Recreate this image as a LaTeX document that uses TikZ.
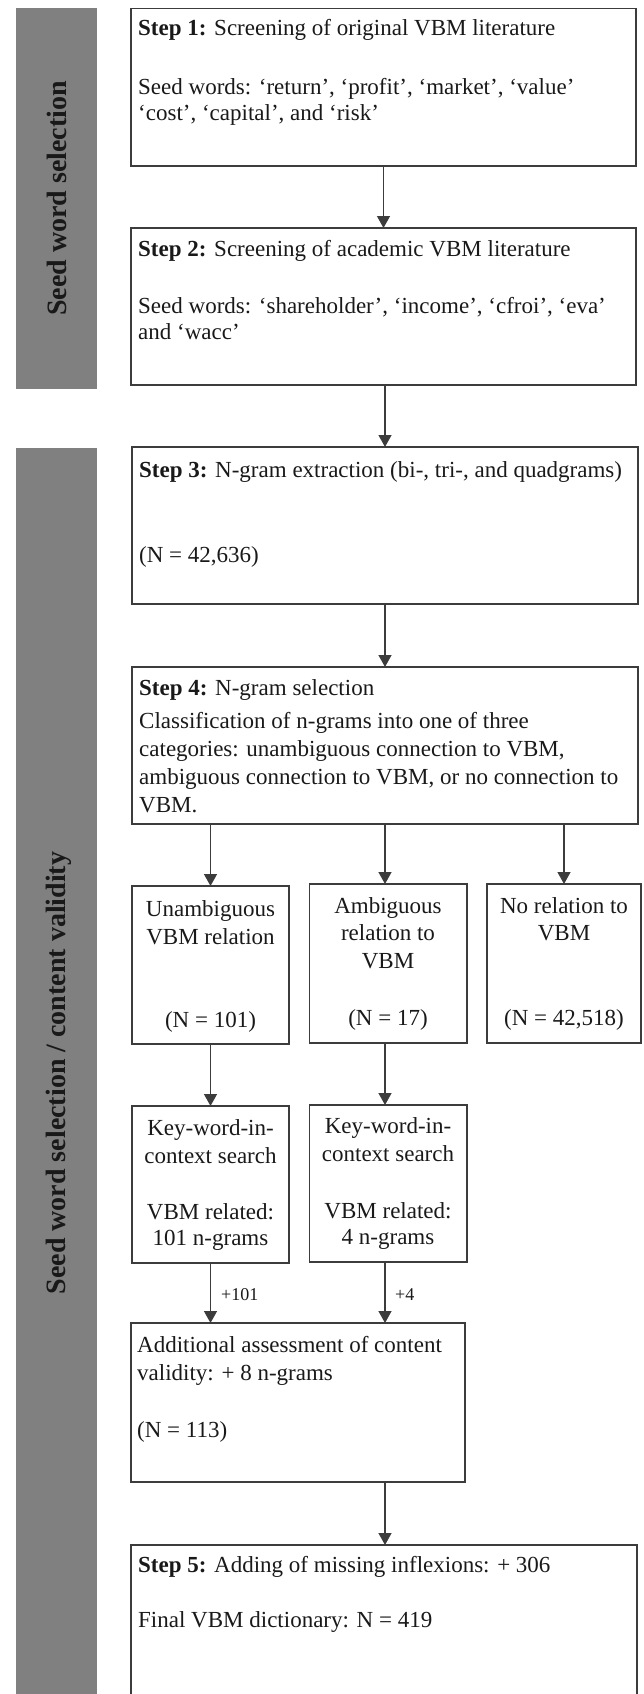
\documentclass[tikz,border=0pt]{standalone}
\usepackage{fontspec}
\setmainfont{Liberation Serif}
\usetikzlibrary{arrows.meta}
\definecolor{barGray}{RGB}{128,128,128}
\definecolor{lineCol}{RGB}{60,60,60}
\definecolor{txtCol}{RGB}{25,25,25}
\newcommand\TLines[2]{\vtop{\baselineskip=#1\relax\lineskiplimit=-100pt\relax #2}}
\newcommand\Ll[1]{\hbox{#1}}
\newcommand\Cl[1]{\hbox to 0pt{\hss#1\hss}}
\tikzset{
  box/.style={draw=lineCol, line width=1.4pt, inner sep=0pt, outer sep=0pt, anchor=north west},
  bar/.style={fill=barGray, draw=none, inner sep=0pt, outer sep=0pt, anchor=north west},
  txt/.style={anchor=base west, inner sep=0pt, text=txtCol, font=\fontsize{23}{27.6}\selectfont},
  ctxt/.style={anchor=base, inner sep=0pt, text=txtCol, font=\fontsize{23}{27.6}\selectfont},
  barlabel/.style={rotate=90, inner sep=0pt, text=txtCol, font=\fontsize{28}{30}\selectfont\bfseries},
  arr/.style={draw=lineCol, line width=1.3pt, -{Triangle[width=13pt,length=12pt]}},
  plus/.style={anchor=base west, inner sep=0pt, text=txtCol, font=\fontsize{18}{20}\selectfont}
}
\begin{document}
\begin{tikzpicture}[x=1pt,y=-1pt]
\useasboundingbox (0,0) rectangle (643,1694);
\clip (0,0) rectangle (643,1694);

% grey side bars
\node[bar, minimum width=81pt, minimum height=380pt] (bar1) at (15.5,8.5) {};
\node[bar, minimum width=81pt, minimum height=1260pt] (bar2) at (15.5,447.5) {};
\node[barlabel] (lab1) at (57,198.5) {Seed word selection};
\node[barlabel] (lab2) at (59,1073) {Seed word selection / content validity};

% boxes
\node[box, minimum width=505pt, minimum height=157.5pt] (s1) at (131,8.5) {};
\node[box, minimum width=505pt, minimum height=157pt] (s2) at (131,228) {};
\node[box, minimum width=506pt, minimum height=157pt] (s3) at (132,447) {};
\node[box, minimum width=506pt, minimum height=157pt] (s4) at (132,667) {};
\node[box, minimum width=157pt, minimum height=158pt] (bA) at (132,886) {};
\node[box, minimum width=157.5pt, minimum height=159pt] (bB) at (309.5,884) {};
\node[box, minimum width=154pt, minimum height=159pt] (bC) at (487,884) {};
\node[box, minimum width=157pt, minimum height=157pt] (kA) at (132,1106) {};
\node[box, minimum width=157.5pt, minimum height=157pt] (kB) at (309.5,1105) {};
\node[box, minimum width=334pt, minimum height=159pt] (add) at (131,1323) {};
\node[box, minimum width=506pt, minimum height=220pt] (s5) at (131,1545) {};

% texts
\node[txt] (t1a) at (138,36) {\textbf{Step 1:} Screening of original VBM literature};
\node[txt] (t1b) at (138,94) {\TLines{26.5pt}{\Ll{Seed words: ‘return’, ‘profit’, ‘market’, ‘value’}\Ll{‘cost’, ‘capital’, and ‘risk’}}};
\node[txt] (t2a) at (138,256) {\textbf{Step 2:} Screening of academic VBM literature};
\node[txt] (t2b) at (138,313) {\TLines{26.5pt}{\Ll{Seed words: ‘shareholder’, ‘income’, ‘cfroi’, ‘eva’}\Ll{and ‘wacc’}}};
\node[txt] (t3a) at (139,477) {\textbf{Step 3:} N-gram extraction (bi-, tri-, and quadgrams)};
\node[txt] (t3b) at (139,562) {(N = 42,636)};
\node[txt] (t4a) at (139,695) {\textbf{Step 4:} N-gram selection};
\node[txt] (t4b) at (139,728) {\TLines{28pt}{\Ll{Classification of n-grams into one of three}\Ll{categories: unambiguous connection to VBM,}\Ll{ambiguous connection to VBM, or no connection to}\Ll{VBM.}}};

\node[ctxt] (tA1) at (210.5,916) {\TLines{28pt}{\Cl{Unambiguous}\Cl{VBM relation}}};
\node[ctxt] (tA2) at (210.5,1027) {(N = 101)};
\node[ctxt] (tB1) at (388,913) {\TLines{27.5pt}{\Cl{Ambiguous}\Cl{relation to}\Cl{VBM}}};
\node[ctxt] (tB2) at (388,1025) {(N = 17)};
\node[ctxt] (tC1) at (564,913) {\TLines{27pt}{\Cl{No relation to}\Cl{VBM}}};
\node[ctxt] (tC2) at (564,1025) {(N = 42,518)};

\node[ctxt] (kA1) at (210.5,1135) {\TLines{28pt}{\Cl{Key-word-in-}\Cl{context search}}};
\node[ctxt] (kA2) at (210.5,1219) {\TLines{26.5pt}{\Cl{VBM related:}\Cl{101 n-grams}}};
\node[ctxt] (kB1) at (388,1133) {\TLines{28pt}{\Cl{Key-word-in-}\Cl{context search}}};
\node[ctxt] (kB2) at (388,1218) {\TLines{26.5pt}{\Cl{VBM related:}\Cl{4 n-grams}}};

\node[txt] (ad1) at (137,1352) {\TLines{28pt}{\Ll{Additional assessment of content}\Ll{validity: + 8 n-grams}}};
\node[txt] (ad2) at (137,1437) {(N = 113)};
\node[txt] (t5a) at (138,1572) {\textbf{Step 5:} Adding of missing inflexions: + 306};
\node[txt] (t5b) at (138,1627) {Final VBM dictionary: N = 419};

% connectors
\coordinate (colB) at (385,0);
\draw[arr] (s1.south) -- (s2.north);
\draw[arr] (colB |- s2.south) -- (colB |- s3.north);
\draw[arr] (colB |- s3.south) -- (colB |- s4.north);
\draw[arr] (bA.north |- s4.south) -- (bA.north);
\draw[arr] (colB |- s4.south) -- (colB |- bB.north);
\draw[arr] (bC.north |- s4.south) -- (bC.north);
\draw[arr] (bA.south) -- (kA.north);
\draw[arr] (colB |- bB.south) -- (colB |- kB.north);
\draw[arr] (kA.south) -- (kA.south |- add.north);
\draw[arr] (colB |- kB.south) -- (colB |- add.north);
\draw[arr] (colB |- add.south) -- (colB |- s5.north);
\node[plus] (p101) at (221,1300) {+101};
\node[plus] (p4) at (395,1300) {+4};
\end{tikzpicture}
\end{document}
